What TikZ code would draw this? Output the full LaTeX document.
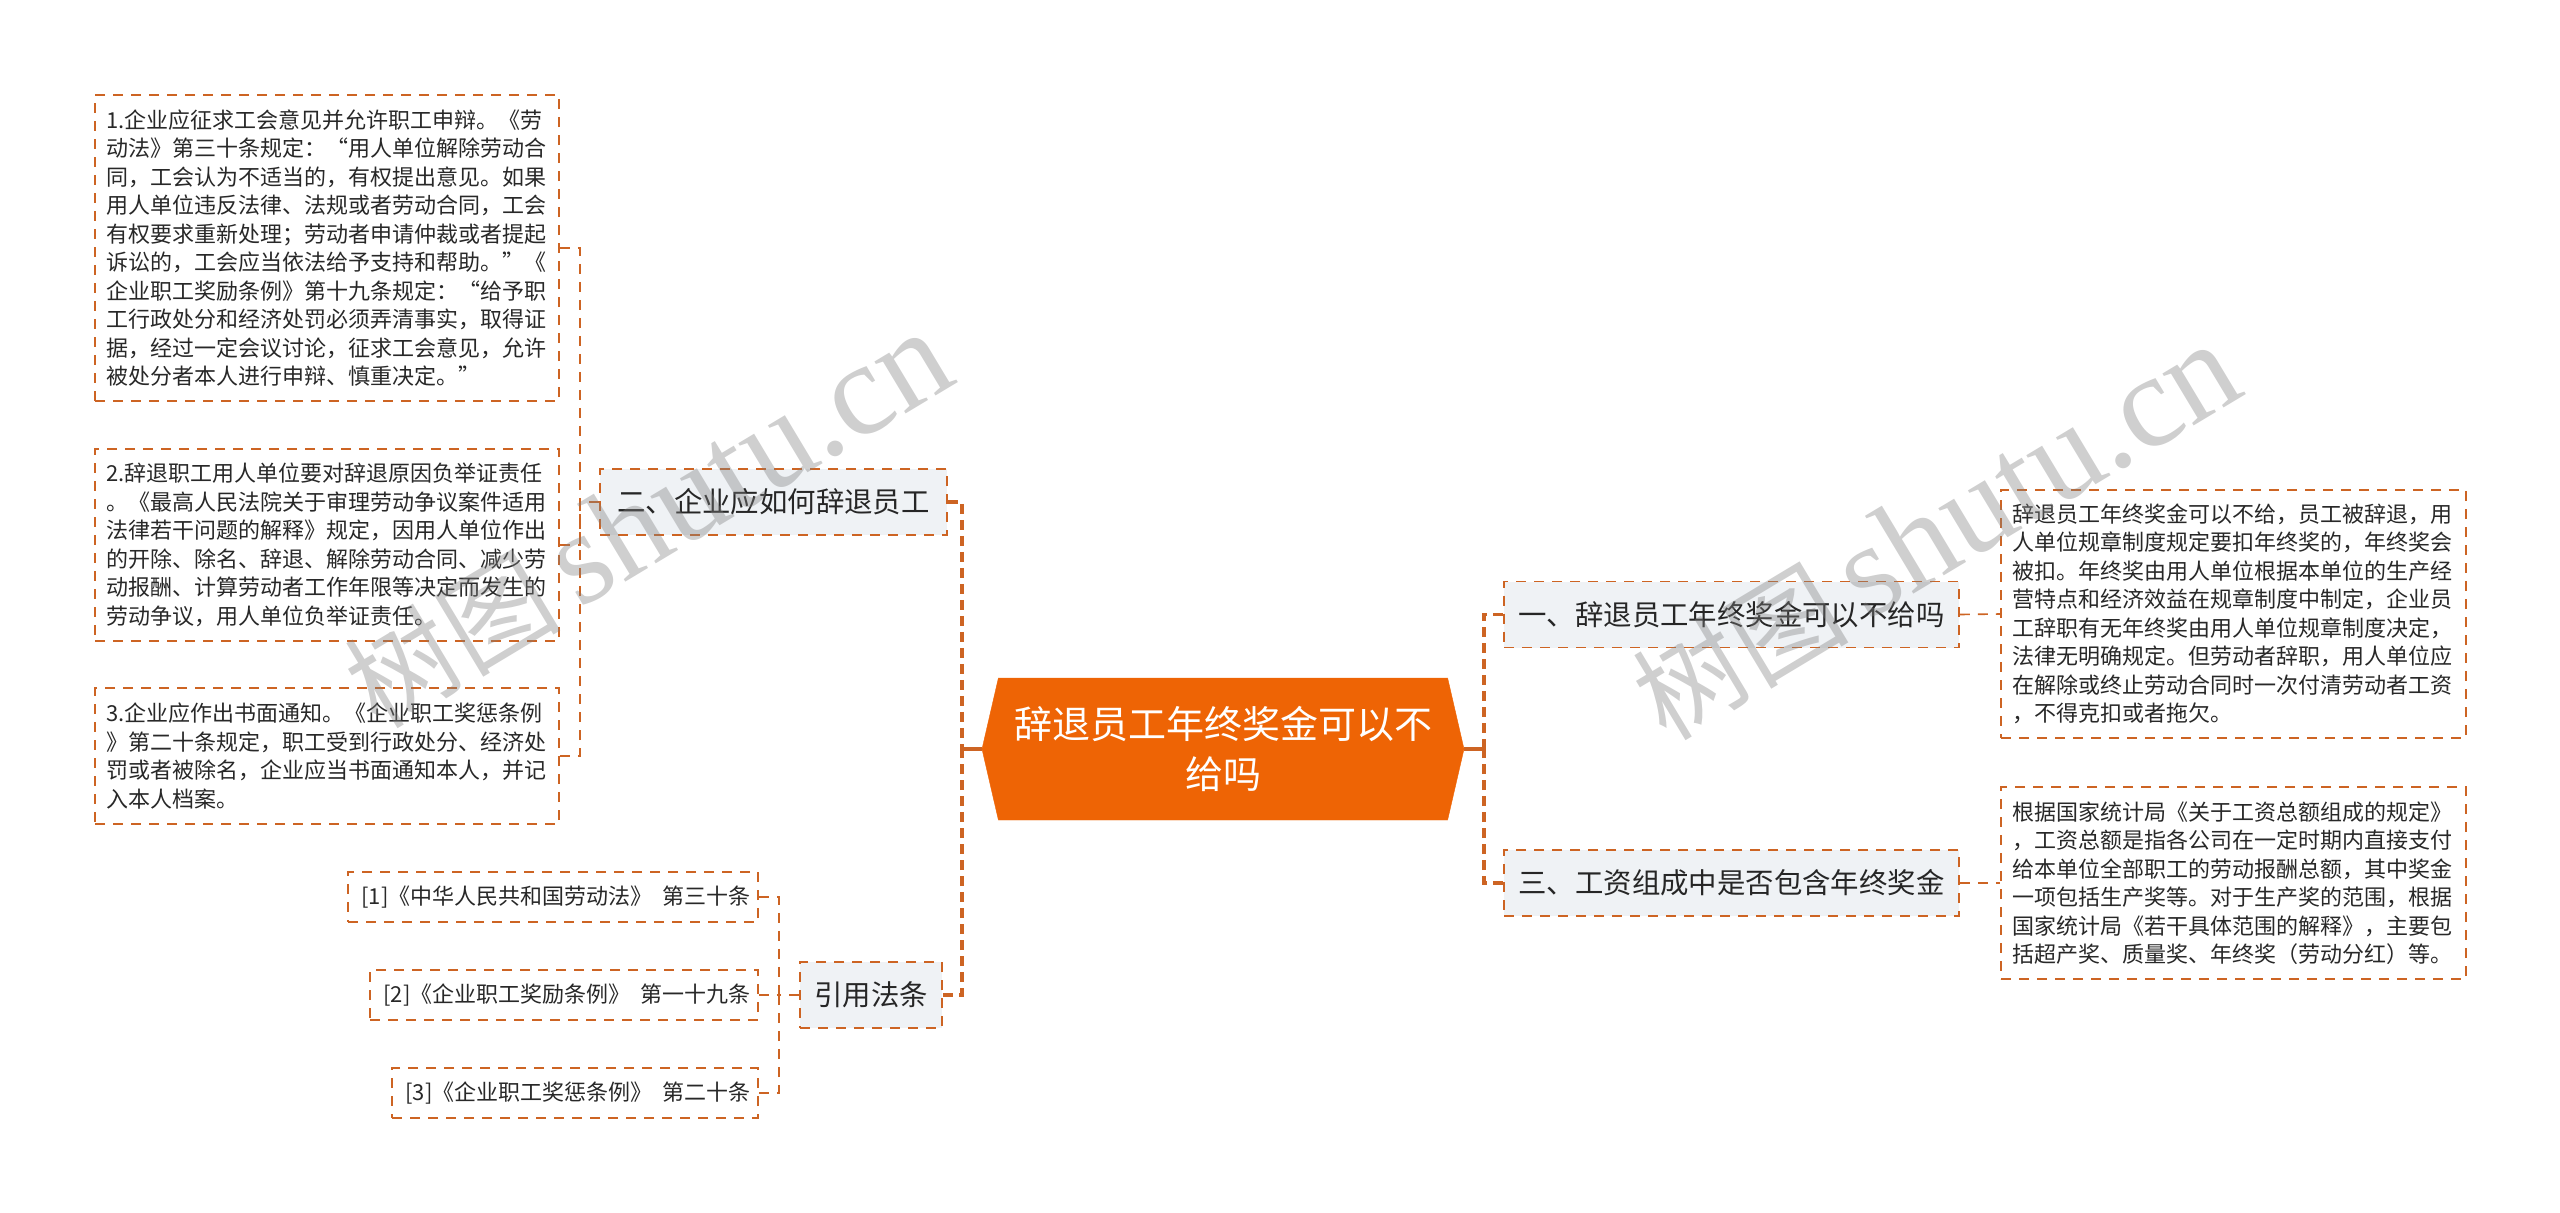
\documentclass[tikz,border=0pt]{standalone}
\usepackage{fontspec}
\setmainfont{Noto Sans CJK SC}
\newfontfamily\markfont{Liberation Serif}
\usetikzlibrary{shapes.symbols}
\definecolor{linkorange}{RGB}{205,100,35}
\definecolor{rootorange}{RGB}{238,100,5}
\definecolor{subfill}{RGB}{239,242,245}
\definecolor{inkgray}{RGB}{40,40,40}
\tikzset{
  leaf/.style={draw=linkorange,line width=1.6pt,dash pattern=on 10pt off 8pt,inner sep=0,text=inkgray,font=\fontsize{22}{28.5}\selectfont,align=left,anchor=center},
  subnode/.style={leaf,fill=subfill,align=center,text=black!85,font=\fontsize{28.4}{34}\selectfont},
  thinlink/.style={draw=linkorange,line width=1.6pt,dash pattern=on 10pt off 8pt},
  trunk/.style={draw=linkorange,line width=3.5pt,dash pattern=on 10pt off 6pt},
  stub/.style={draw=linkorange,line width=3.5pt},
  wmark/.style={text=gray,opacity=0.38,rotate=31,inner sep=0,anchor=center,font=\fontsize{108}{120}\selectfont},
}
\begin{document}
\begin{tikzpicture}[x=1pt,y=-1pt]
    \useasboundingbox (0,0) rectangle (2560,1213);
    % centre
    \node[signal,signal to=west and east,signal pointer angle=154,fill=rootorange,draw=rootorange,inner sep=0,minimum width=482pt,minimum height=142pt,text width=430pt,align=center,text=white,font=\fontsize{38}{50}\selectfont] (root) at (1223,749) {辞退员工年终奖金可以不\\给吗};
    % left side
    \node[subnode,minimum width=347pt,minimum height=66pt] (er) at (773.5,502) {二、企业应如何辞退员工};
    \node[subnode,minimum width=142pt,minimum height=66pt] (yf) at (871,995) {引用法条};
    \node[leaf,minimum width=464pt,minimum height=306pt,text width=442pt] (d1) at (327,248) {1.企业应征求工会意见并允许职工申辩。《劳\\动法》第三十条规定：“用人单位解除劳动合\\同，工会认为不适当的，有权提出意见。如果\\用人单位违反法律、法规或者劳动合同，工会\\有权要求重新处理；劳动者申请仲裁或者提起\\诉讼的，工会应当依法给予支持和帮助。”《\\企业职工奖励条例》第十九条规定：“给予职\\工行政处分和经济处罚必须弄清事实，取得证\\据，经过一定会议讨论，征求工会意见，允许\\被处分者本人进行申辩、慎重决定。”};
    \node[leaf,minimum width=464pt,minimum height=192pt,text width=442pt] (d2) at (327,545) {2.辞退职工用人单位要对辞退原因负举证责任\\。《最高人民法院关于审理劳动争议案件适用\\法律若干问题的解释》规定，因用人单位作出\\的开除、除名、辞退、解除劳动合同、减少劳\\动报酬、计算劳动者工作年限等决定而发生的\\劳动争议，用人单位负举证责任。};
    \node[leaf,minimum width=464pt,minimum height=136pt,text width=442pt] (d3) at (327,756) {3.企业应作出书面通知。《企业职工奖惩条例\\》第二十条规定，职工受到行政处分、经济处\\罚或者被除名，企业应当书面通知本人，并记\\入本人档案。};
    \node[leaf,minimum width=410pt,minimum height=50pt] (f1) at (553,897) {\hspace*{6pt}[1]《中华人民共和国劳动法》\hspace{5pt} 第三十条};
    \node[leaf,minimum width=388pt,minimum height=50pt] (f2) at (564,995) {\hspace*{6pt}[2]《企业职工奖励条例》\hspace{5pt} 第一十九条};
    \node[leaf,minimum width=366pt,minimum height=50pt] (f3) at (575,1093) {\hspace*{6pt}[3]《企业职工奖惩条例》\hspace{5pt} 第二十条};
    % right side
    \node[subnode,minimum width=455pt,minimum height=66pt] (yi) at (1731.5,614.5) {一、辞退员工年终奖金可以不给吗};
    \node[subnode,minimum width=455pt,minimum height=66pt] (san) at (1731.5,883) {三、工资组成中是否包含年终奖金};
    \node[leaf,minimum width=465pt,minimum height=248pt,text width=443pt] (r1) at (2233.5,614) {辞退员工年终奖金可以不给，员工被辞退，用\\人单位规章制度规定要扣年终奖的，年终奖会\\被扣。年终奖由用人单位根据本单位的生产经\\营特点和经济效益在规章制度中制定，企业员\\工辞职有无年终奖由用人单位规章制度决定，\\法律无明确规定。但劳动者辞职，用人单位应\\在解除或终止劳动合同时一次付清劳动者工资\\，不得克扣或者拖欠。};
    \node[leaf,minimum width=465pt,minimum height=192pt,text width=443pt] (r2) at (2233.5,883) {根据国家统计局《关于工资总额组成的规定》\\，工资总额是指各公司在一定时期内直接支付\\给本单位全部职工的劳动报酬总额，其中奖金\\一项包括生产奖等。对于生产奖的范围，根据\\国家统计局《若干具体范围的解释》，主要包\\括超产奖、质量奖、年终奖（劳动分红）等。};
    % joints
    \coordinate (ljoin) at (962,749);
    \coordinate (rjoin) at (1484,749);
    \coordinate (erjoin) at (580,502);
    \coordinate (yfjoin) at (779,995);
    % links
    \draw[stub] (root.west) -- (ljoin);
    \draw[stub] (root.east) -- (rjoin);
    \draw[trunk] (er.east) -| (ljoin);
    \draw[trunk] (yf.east) -| (ljoin);
    \draw[trunk] (yi.west) -| (rjoin);
    \draw[trunk] (san.west) -| (rjoin);
    \draw[thinlink] (er.west) -- (erjoin);
    \draw[thinlink] (d1.east) -| (erjoin);
    \draw[thinlink] (d2.east) -| (erjoin);
    \draw[thinlink] (d3.east) -| (erjoin);
    \draw[thinlink] (yf.west) -- (yfjoin);
    \draw[thinlink] (f1.east) -| (yfjoin);
    \draw[thinlink] (f2.east) -- (yfjoin);
    \draw[thinlink] (f3.east) -| (yfjoin);
    \draw[thinlink] (yi.east) -- (r1.west);
    \draw[thinlink] (san.east) -- (r2.west);
    % watermarks
    \node[wmark] (wa) at (648,520) {树图\,{\markfont\fontsize{132}{132}\selectfont shutu.cn}};
    \node[wmark] (wb) at (1936,532) {树图\,{\markfont\fontsize{132}{132}\selectfont shutu.cn}};
\end{tikzpicture}
\end{document}
